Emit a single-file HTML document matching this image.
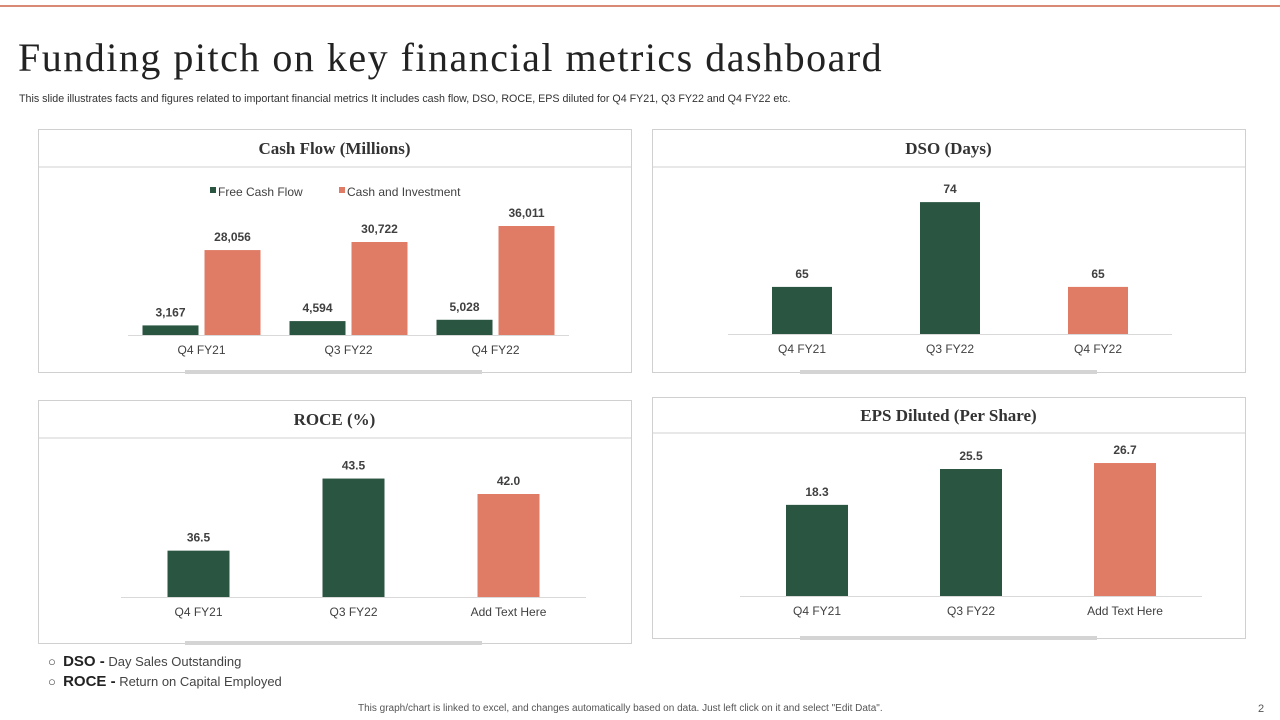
<!DOCTYPE html>
<html><head><meta charset="utf-8"><style>
body{margin:0;width:1280px;height:720px;background:#fff;position:relative;overflow:hidden;font-family:"Liberation Sans",sans-serif}
.a{position:absolute}
</style></head><body>
<div class="a" style="left:0;top:5px;width:1280px;height:2px;background:#d98a76"></div>
<div class="a" style="left:18px;top:34px;font-family:'Liberation Serif',serif;font-size:40px;color:#222;letter-spacing:1.5px;white-space:nowrap">Funding pitch on key financial metrics dashboard</div>
<div class="a" style="left:19px;top:93px;font-size:10.7px;color:#333;white-space:nowrap">This slide illustrates facts and figures related to important financial metrics It includes cash flow, DSO, ROCE,  EPS  diluted for Q4 FY21, Q3 FY22 and Q4 FY22 etc.</div>
<svg class="a" id="svg" style="left:0;top:0" width="1280" height="720"></svg>
<div class="a" style="left:48px;top:653px;font-size:13px;color:#444">○&nbsp; <b style="font-size:15px;color:#222">DSO -</b> Day Sales Outstanding</div>
<div class="a" style="left:48px;top:673px;font-size:13px;color:#444">○&nbsp; <b style="font-size:15px;color:#222">ROCE -</b> Return on Capital Employed</div>
<div class="a" style="left:358px;top:703px;font-size:10px;color:#555;white-space:nowrap">This graph/chart is linked to excel, and changes automatically based on data. Just left click on it and select "Edit Data".</div>
<div class="a" style="left:1258px;top:703px;font-size:11px;color:#555">2</div>
<script>
const G='#2a5541',O='#e07b65';
const cfCats=['Q4 FY21','Q3 FY22','Q4 FY22'];
const cfFree=[3167,4594,5028];
const cfCash=[28056,30722,36011];
const dsoCats=['Q4 FY21','Q3 FY22','Q4 FY22'];
const dsoVals=[65,74,65];
const roceCats=['Q4 FY21','Q3 FY22','Add Text Here'];
const roceVals=[36.5,43.5,42.0];
const epsCats=['Q4 FY21','Q3 FY22','Add Text Here'];
const epsVals=[18.3,25.5,26.7];
const svg=document.getElementById('svg');
const NS='http://www.w3.org/2000/svg';
function mk(t,a,txt){const e=document.createElementNS(NS,t);for(const k in a)e.setAttribute(k,a[k]);if(txt!==undefined)e.textContent=txt;svg.appendChild(e);return e;}
function panel(name,x,y,w,h,hb,title,sx){
 const r=mk('rect',{x:x+.5,y:y+.5,width:w,height:h,fill:'#fff',stroke:'#d0d0d0'});
 
 
 mk('line',{x1:x,x2:x+w,y1:y+hb,y2:y+hb,stroke:'#d0d0d0'});
 const t=mk('text',{x:x+w/2,y:y+hb/2+6,'text-anchor':'middle','font-family':'Liberation Serif,serif','font-size':17,'font-weight':'bold',fill:'#333'},title);
 
 
 const s=mk('rect',{x:sx,y:y+h-2,width:297,height:4,fill:'#d4d4d4'});
 
 
}
function chart(name,cats,series,colors,ax0,ax1,base,bw,gap,yfn,fmt){
 mk('line',{x1:ax0,x2:ax1,y1:base+.5,y2:base+.5,stroke:'#d9d9d9'});
 const gw=(ax1-ax0)/cats.length;
 cats.forEach((c,i)=>{
  const cx=ax0+gw*(i+.5);
  const l=mk('text',{x:cx,y:base+19,'text-anchor':'middle','font-size':12,fill:'#404040'},c);
  
  
  const n=series.length,tot=n*bw+(n-1)*gap;
  series.forEach((s,j)=>{
   const v=s[i],top=yfn(v),bx=cx-tot/2+j*(bw+gap);
   const b=mk('rect',{x:bx,y:top,width:bw,height:base-top,fill:colors[j][i]});
   
   
   const vl=mk('text',{x:bx+bw/2,y:top-9,'text-anchor':'middle','font-size':12,'font-weight':'bold',fill:'#404040'},fmt(v));
   
   
  });
 });
}
const comma=v=>v.toLocaleString('en-US');
panel('cash-flow',38,129,593,243,38,'Cash Flow (Millions)',185);
panel('dso',652,129,593,243,38,'DSO (Days)',800);
panel('roce',38,400,593,243,38,'ROCE (%)',185);
panel('eps',652,397,593,241,36,'EPS Diluted (Per Share)',800);
mk('rect',{x:210,y:187,width:6,height:6,fill:G});
let lg=mk('text',{x:218,y:196,'font-size':12,fill:'#404040'},'Free Cash Flow');


mk('rect',{x:339,y:187,width:6,height:6,fill:O});
lg=mk('text',{x:347,y:196,'font-size':12,fill:'#404040'},'Cash and Investment');


chart('cash-flow',cfCats,[cfFree,cfCash],[[G,G,G],[O,O,O]],128,569,335,56,6,v=>335-v*109/36011,comma);
chart('dso',dsoCats,[dsoVals],[[G,G,O]],728,1172,334,60,0,v=>334-(v-60)*9.42,v=>String(v));
chart('roce',roceCats,[roceVals],[[G,G,O]],121,586,597,62,0,v=>597-(v-32)*10.3,v=>v.toFixed(1));
chart('eps',epsCats,[epsVals],[[G,G,O]],740,1202,596,62,0,v=>596-v*4.98,v=>v.toFixed(1));
</script>
</body></html>
